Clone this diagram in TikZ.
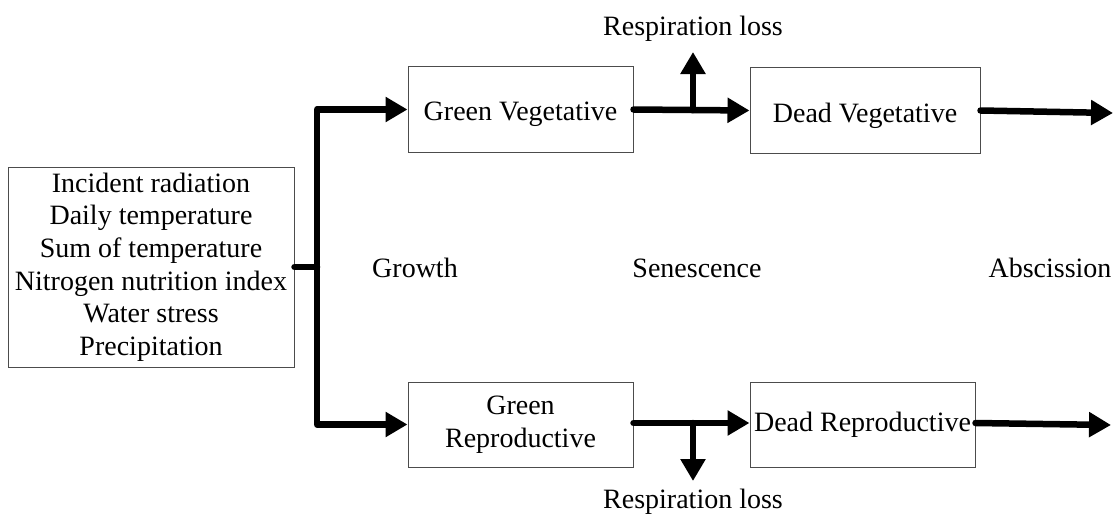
\documentclass[tikz,border=0pt]{standalone}
\usepackage{fontspec}
\setmainfont{Liberation Serif}
\usetikzlibrary{arrows.meta}
\begin{document}
\begin{tikzpicture}[x=1pt,y=-1pt,
  font=\fontsize{28}{32.6}\selectfont,
  box/.style={draw=black!70,line width=1pt,inner sep=0pt,align=center},
  pool/.style={box,minimum width=225pt,minimum height=85pt},
  oneline/.style={text depth=0pt},
  flow/.style={line width=6.5pt,line cap=round,line join=round,
    -{Triangle[length=22pt,width=24pt]}},
  feed/.style={line width=6.5pt,line cap=round,line join=round},
  lbl/.style={inner sep=0pt}]
\useasboundingbox (0,0) rectangle (1113,519);

% input box
\node[box,minimum width=286pt,minimum height=200pt] (in) at (151,267)
  {Incident radiation\\Daily temperature\\Sum of temperature\\Nitrogen nutrition index\\Water stress\\Precipitation};

% pools
\node[pool,oneline] (gv) at (520.5,109.5) {\raisebox{-4pt}{Green Vegetative}};
\node[pool,oneline,minimum width=230pt] (dv) at (865,110.5) {\raisebox{-4pt}{Dead Vegetative}};
\node[pool] (gr) at (520.5,424.5) {Green\\Reproductive};
\node[pool] (dr) at (862.5,424.5) {Dead Reproductive};

% process labels
\node[lbl] (growth) at (415,268) {Growth};
\node[lbl] (sen) at (697,268) {Senescence};
\node[lbl] (abs) at (1050,268) {Abscission};
\node[lbl] (rtop) at (693,29) {Respiration loss};
\node[lbl] (rbot) at (693,502) {Respiration loss};

% junctions and free ends
\coordinate (trunk) at (317,267);
\coordinate (jtop) at (693,110);
\coordinate (jbot) at (693,423);
\coordinate (rtopend) at (693,52);
\coordinate (rbotend) at (693,481);
\coordinate (outtop) at (1113,113);
\coordinate (outbot) at (1111,425);

% growth split
\draw[feed] (in.east) -- (trunk);
\draw[flow] (trunk) |- (gv.west);
\draw[flow] (trunk) |- (gr.west);

% senescence with respiration loss
\draw[flow] (gv.east) -- (dv.west);
\draw[flow] (jtop) -- (rtopend);
\draw[flow] (gr.east |- jbot) -- (dr.west |- jbot);
\draw[flow] (jbot) -- (rbotend);

% abscission
\draw[flow] (dv.east) -- (outtop);
\draw[flow] (dr.east |- jbot) -- (outbot);
\end{tikzpicture}
\end{document}
